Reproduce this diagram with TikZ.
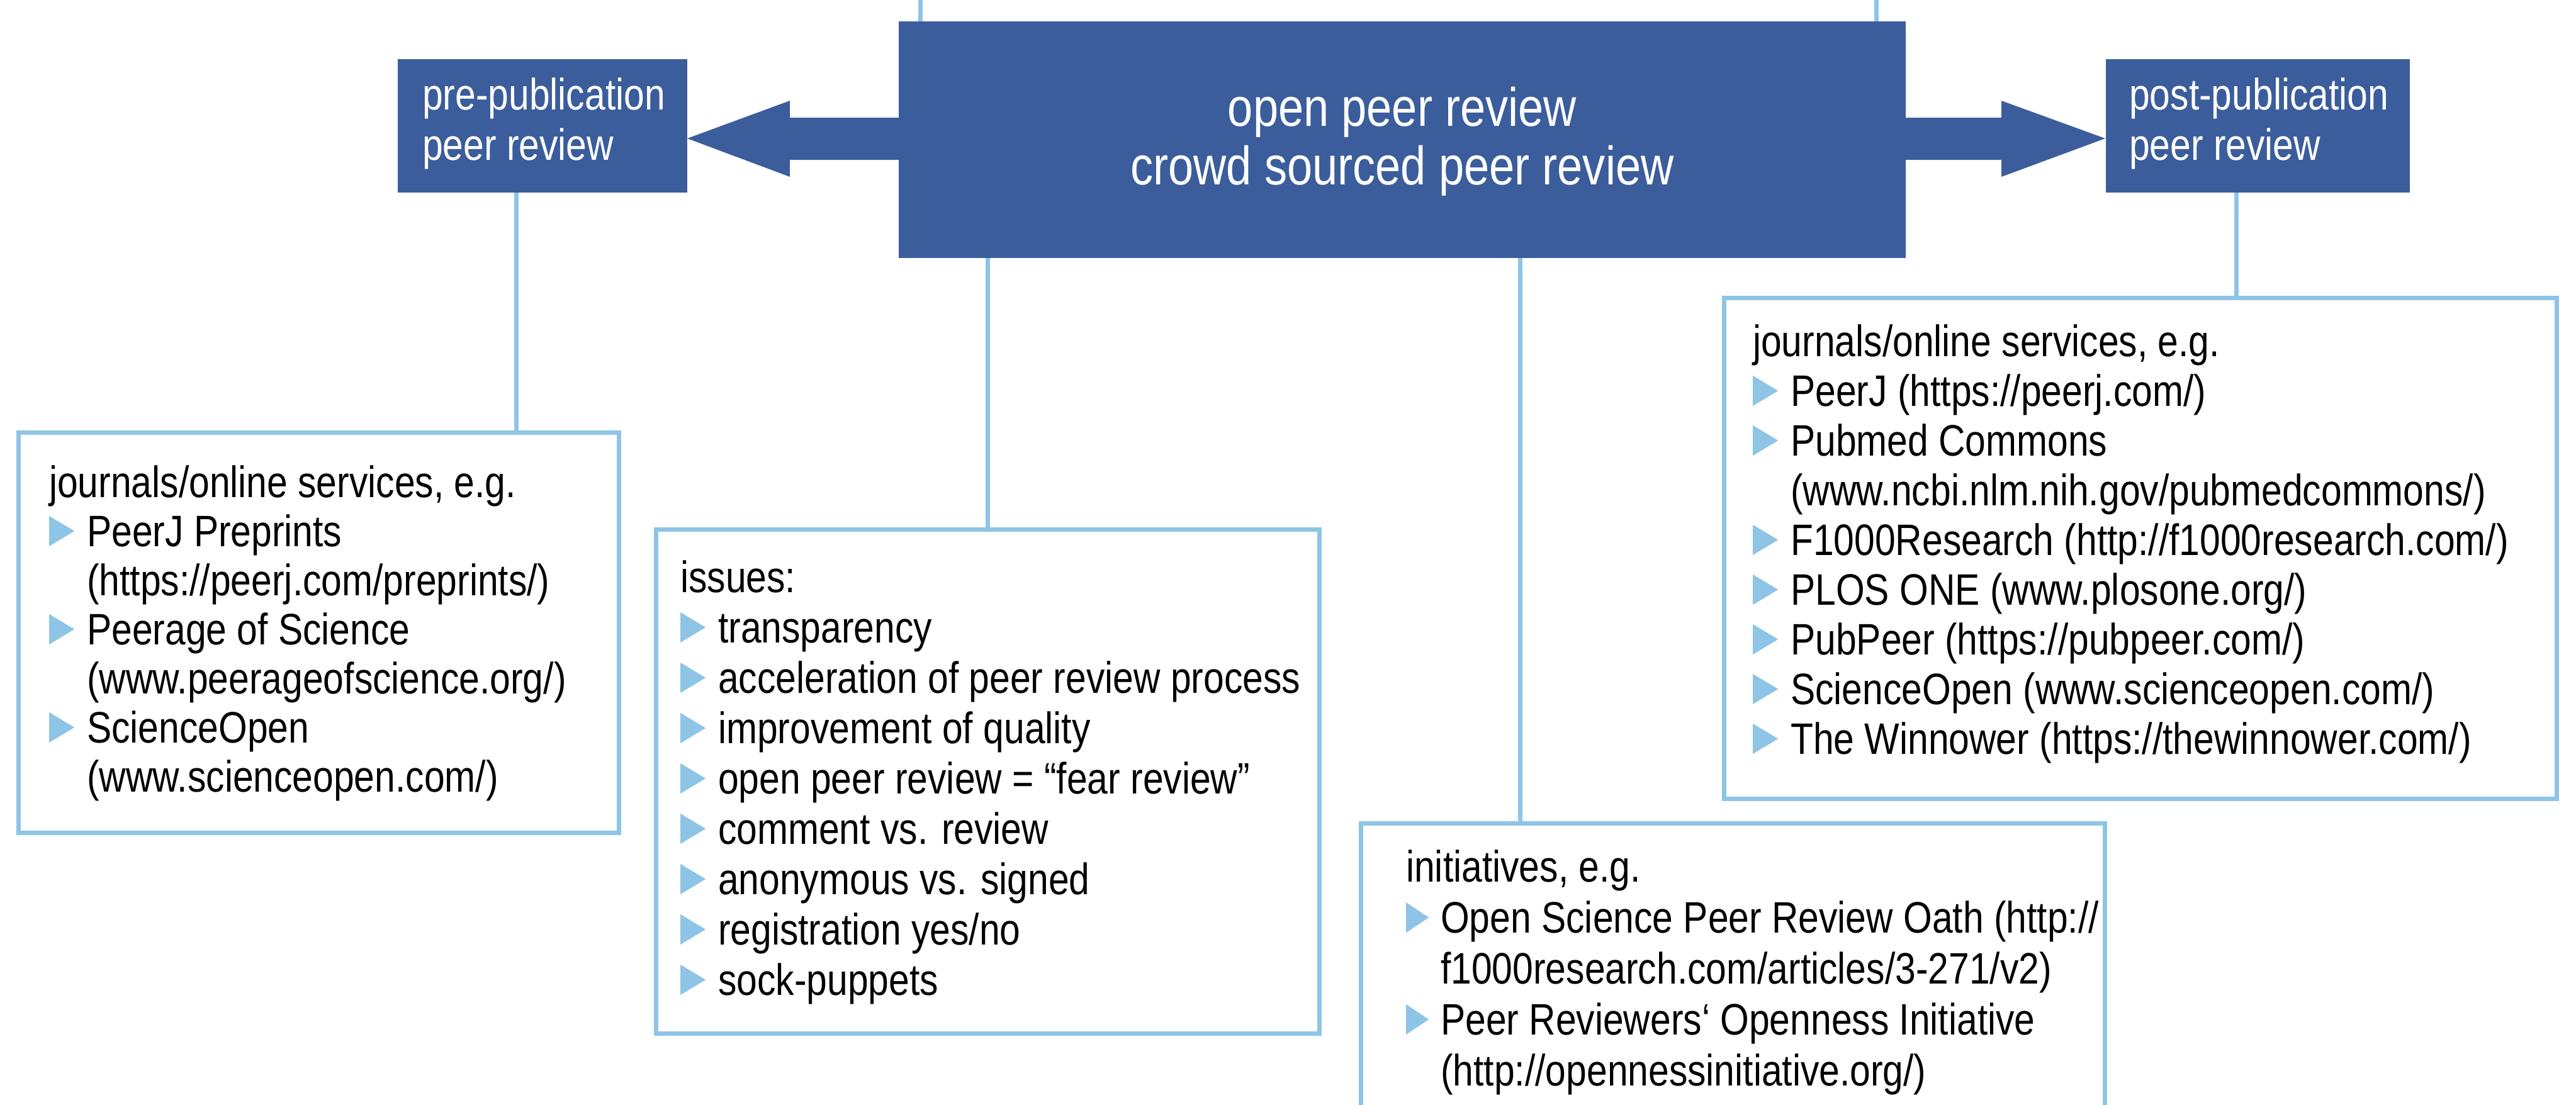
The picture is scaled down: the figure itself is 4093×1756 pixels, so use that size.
\documentclass[tikz,border=0pt]{standalone}
\usepackage{fontspec}
\setmainfont{Liberation Sans}[FakeStretch=0.84]
\usetikzlibrary{calc}
\definecolor{db}{HTML}{3B5D9C}
\definecolor{lb}{HTML}{8EC4E6}
\newcommand\bul{\makebox[60pt][l]{\tikz[x=1pt,y=1pt,baseline=0pt]\fill[lb](0,0)--(0,48)--(40,24)--cycle;}}
\newcommand\buls{\makebox[55pt][l]{\tikz[x=1pt,y=1pt,baseline=0pt]\fill[lb](0,0)--(0,48)--(36,24)--cycle;}}
\begin{document}
\begin{tikzpicture}[x=1pt,y=-1pt,
  lbox/.style={draw=lb,line width=7pt,fill=white,inner sep=0pt,anchor=north west},
  dbox/.style={fill=db,inner sep=0pt,anchor=north west},
  conn/.style={draw=lb,line width=7pt},
  wtxt/.style={text=white,inner sep=0pt,anchor=base west,font=\fontsize{70}{80}\selectfont},
  ltxt/.style={text=black,inner sep=0pt,anchor=base west},
  arr/.style={fill=db}]
\useasboundingbox (0,0) rectangle (4093,1756);

% blue boxes
\node[dbox,minimum width=1600pt,minimum height=376pt] (ctr) at (1428,34) {};
\node[dbox,minimum width=460pt,minimum height=212pt] (pre) at (632,94) {};
\node[dbox,minimum width=483pt,minimum height=212pt] (post) at (3346,94) {};

% light boxes
\node[lbox,minimum width=954pt,minimum height=636pt] (jl) at (26,684) {};
\node[lbox,minimum width=1054pt,minimum height=801pt] (iss) at (1039,838) {};
\node[lbox,minimum width=1182pt,minimum height=600pt] (ini) at (2159,1305) {};
\node[lbox,minimum width=1323pt,minimum height=796pt] (jr) at (2736,470) {};

% connectors
\coordinate (a1) at (1462,0);
\coordinate (a2) at (2981,0);
\coordinate (x1) at (820,0);
\coordinate (x2) at (1569,0);
\coordinate (x3) at (2415,0);
\coordinate (x4) at (3553,0);
\draw[conn] (a1) -- (a1 |- ctr.north);
\draw[conn] (a2) -- (a2 |- ctr.north);
\draw[conn] (x1 |- pre.south) -- (x1 |- jl.north);
\draw[conn] (x2 |- ctr.south) -- (x2 |- iss.north);
\draw[conn] (x3 |- ctr.south) -- (x3 |- ini.north);
\draw[conn] (x4 |- post.south) -- (x4 |- jr.north);

% block arrows
\fill[arr] (1430,187) -- (1255,187) -- (1255,160) -- (1092,220) -- (1255,281) -- (1255,254) -- (1430,254) -- cycle;
\fill[arr] (3026,187) -- (3180,187) -- (3180,160) -- (3345,220) -- (3180,281) -- (3180,254) -- (3026,254) -- cycle;

% texts in blue boxes
\node[text=white,inner sep=0pt,anchor=base,font=\fontsize{86}{93}\selectfont] (c1) at (2228,200) {open peer review};
\node[text=white,inner sep=0pt,anchor=base,font=\fontsize{86}{93}\selectfont] (c2) at (2228,293) {crowd sourced peer review};
\node[wtxt] (p1) at (671,174) {pre-publication};
\node[wtxt] (p2) at (671,254) {peer review};
\node[wtxt] (q1) at (3383,174) {post-publication};
\node[wtxt] (q2) at (3383,254) {peer review};

% list texts
\node[ltxt,font=\fontsize{70}{78}\selectfont] (tl) at (78,790) {\begin{tabular}[t]{@{}l@{}l@{}}
\multicolumn{2}{@{}l@{}}{journals/online services, e.g.}\\
\bul & PeerJ Preprints\\
 & (https://peerj.com/preprints/)\\
\bul & Peerage of Science\\
 & (www.peerageofscience.org/)\\
\bul & ScienceOpen\\
 & (www.scienceopen.com/)
\end{tabular}};

\node[ltxt,font=\fontsize{70}{80}\selectfont] (ti) at (1081,941) {\begin{tabular}[t]{@{}l@{}l@{}}
\multicolumn{2}{@{}l@{}}{issues:}\\
\bul & transparency\\
\bul & acceleration of peer review process\\
\bul & improvement of quality\\
\bul & open peer review = “fear review”\\
\bul & comment vs. review\\
\bul & anonymous vs. signed\\
\bul & registration yes/no\\
\bul & sock-puppets
\end{tabular}};

\node[ltxt,font=\fontsize{70}{79}\selectfont] (tr) at (2785,566) {\begin{tabular}[t]{@{}l@{}l@{}}
\multicolumn{2}{@{}l@{}}{journals/online services, e.g.}\\
\bul & PeerJ (https://peerj.com/)\\
\bul & Pubmed Commons\\
 & (www.ncbi.nlm.nih.gov/pubmedcommons/)\\
\bul & F1000Research (http://f1000research.com/)\\
\bul & PLOS ONE (www.plosone.org/)\\
\bul & PubPeer (https://pubpeer.com/)\\
\bul & ScienceOpen (www.scienceopen.com/)\\
\bul & The Winnower (https://thewinnower.com/)
\end{tabular}};

\node[ltxt,font=\fontsize{70}{81}\selectfont] (tn) at (2234,1401) {\begin{tabular}[t]{@{}l@{}l@{}}
\multicolumn{2}{@{}l@{}}{initiatives, e.g.}\\
\buls & Open Science Peer Review Oath (http://\\
 & f1000research.com/articles/3-271/v2)\\
\buls & Peer Reviewers‘ Openness Initiative\\
 & (http://opennessinitiative.org/)
\end{tabular}};
\end{tikzpicture}
\end{document}
